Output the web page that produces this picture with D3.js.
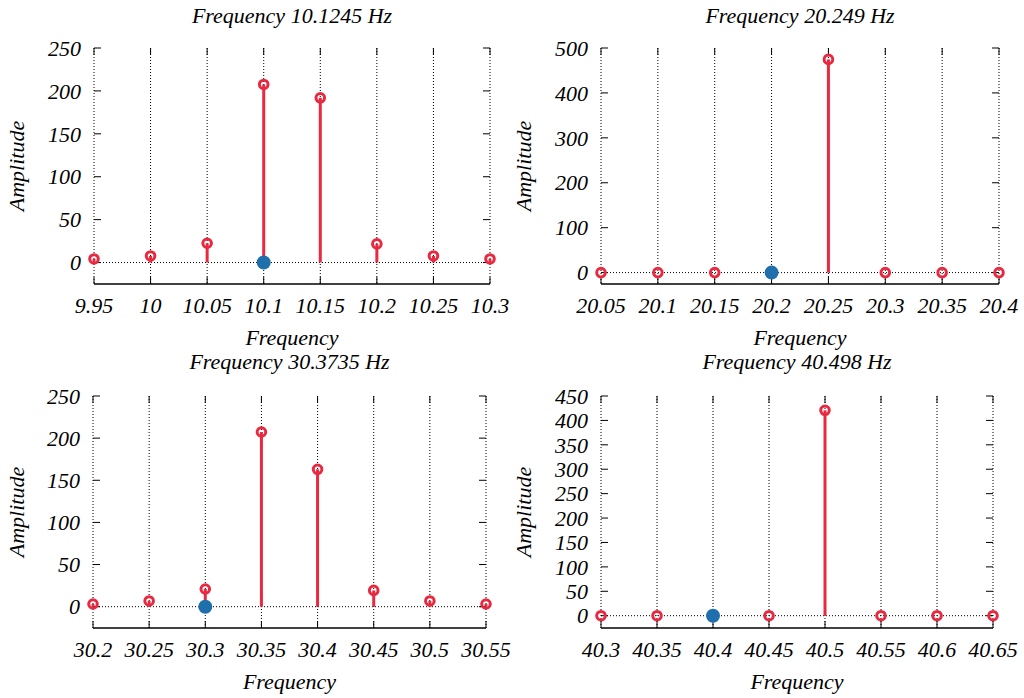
<!DOCTYPE html>
<html>
<head>
<meta charset="utf-8">
<script src="https://cdn.jsdelivr.net/npm/d3@7"></script>
<style>
  body { margin: 0; background: #fff; }
</style>
</head>
<body>
<div id="chart"></div>
<script>
// ---------------- data ----------------
const titles = ["Frequency 10.1245 Hz", "Frequency 20.249 Hz", "Frequency 30.3735 Hz", "Frequency 40.498 Hz"];

const freqs1 = [9.95, 10, 10.05, 10.1, 10.15, 10.2, 10.25, 10.3];
const amps1 = [4.2, 7.7, 22.5, 207.5, 192, 21.7, 7.7, 4.2];
const freqs2 = [20.05, 20.1, 20.15, 20.2, 20.25, 20.3, 20.35, 20.4];
const amps2 = [0, 0, 0, 0, 474.6, 0, 0, 0];
const freqs3 = [30.2, 30.25, 30.3, 30.35, 30.4, 30.45, 30.5, 30.55];
const amps3 = [3.2, 6.8, 21, 207.3, 163, 19.3, 6.8, 3.2];
const freqs4 = [40.3, 40.35, 40.4, 40.45, 40.5, 40.55, 40.6, 40.65];
const amps4 = [0, 0, 0, 0, 420.7, 0, 0, 0];

const xTickLabels1 = ["9.95", "10", "10.05", "10.1", "10.15", "10.2", "10.25", "10.3"];
const xTickLabels2 = ["20.05", "20.1", "20.15", "20.2", "20.25", "20.3", "20.35", "20.4"];
const xTickLabels3 = ["30.2", "30.25", "30.3", "30.35", "30.4", "30.45", "30.5", "30.55"];
const xTickLabels4 = ["40.3", "40.35", "40.4", "40.45", "40.5", "40.55", "40.6", "40.65"];

const yTicks1 = [0, 50, 100, 150, 200, 250];
const yTicks2 = [0, 100, 200, 300, 400, 500];
const yTicks3 = [0, 50, 100, 150, 200, 250];
const yTicks4 = [0, 50, 100, 150, 200, 250, 300, 350, 400, 450];

// nearest bin to the target frequency (blue marker)
const markerFreqs = [10.1, 20.2, 30.3, 40.4];

// ---------------- layout ----------------
const W = 1024, H = 698;
const red = "#e8293f", blue = "#1f6fad";
const fontFamily = "'Liberation Serif', 'DejaVu Serif', 'Times New Roman', Times, serif";

const panels = [
  { freqs: freqs1, amps: amps1, xLabels: xTickLabels1, yTicks: yTicks1, yMin: -25, yMax: 250,
    box: { l: 94, r: 490, t: 48, b: 284 }, titleY: 23, ylabX: 24 },
  { freqs: freqs2, amps: amps2, xLabels: xTickLabels2, yTicks: yTicks2, yMin: -25.4, yMax: 500,
    box: { l: 601, r: 999, t: 48, b: 284 }, titleY: 23, ylabX: 531 },
  { freqs: freqs3, amps: amps3, xLabels: xTickLabels3, yTicks: yTicks3, yMin: -25.3, yMax: 250,
    box: { l: 93, r: 486, t: 396, b: 628 }, titleY: 369, ylabX: 24 },
  { freqs: freqs4, amps: amps4, xLabels: xTickLabels4, yTicks: yTicks4, yMin: -25.2, yMax: 450,
    box: { l: 601, r: 993, t: 396, b: 628 }, titleY: 369, ylabX: 531 },
];

const svg = d3.select("#chart").append("svg").attr("width", W).attr("height", H)
  .attr("font-family", fontFamily).attr("font-style", "italic").attr("font-size", 22);

panels.forEach((p, i) => {
  const { l, r, t, b } = p.box;
  const x = d3.scaleLinear().domain([p.freqs[0], p.freqs[p.freqs.length - 1]]).range([l, r]);
  const y = d3.scaleLinear().domain([p.yMin, p.yMax]).range([b, t]);
  const g = svg.append("g");
  const tickLen = 7;

  // vertical dotted grid at each x tick
  g.selectAll(".grid").data(p.freqs).enter().append("line")
    .attr("x1", (d) => x(d)).attr("x2", (d) => x(d))
    .attr("y1", t).attr("y2", b)
    .attr("stroke", "#000").attr("stroke-width", 1).attr("stroke-dasharray", "1,2");

  // dotted zero line
  g.append("line")
    .attr("x1", l).attr("x2", r).attr("y1", y(0)).attr("y2", y(0))
    .attr("stroke", "#000").attr("stroke-width", 1).attr("stroke-dasharray", "1,2");

  // y ticks (left and right, inward)
  p.yTicks.forEach((v) => {
    g.append("line").attr("x1", l).attr("x2", l + tickLen).attr("y1", y(v)).attr("y2", y(v))
      .attr("stroke", "#000");
    g.append("line").attr("x1", r).attr("x2", r - tickLen).attr("y1", y(v)).attr("y2", y(v))
      .attr("stroke", "#000");
  });
  // x ticks (top and bottom, inward)
  p.freqs.forEach((v) => {
    g.append("line").attr("x1", x(v)).attr("x2", x(v)).attr("y1", b).attr("y2", b - tickLen)
      .attr("stroke", "#000");
    g.append("line").attr("x1", x(v)).attr("x2", x(v)).attr("y1", t).attr("y2", t + tickLen)
      .attr("stroke", "#000");
  });

  // bottom border
  g.append("line").attr("x1", l).attr("x2", r).attr("y1", b).attr("y2", b)
    .attr("stroke", "#000").attr("stroke-width", 1.5);

  // tick labels
  g.selectAll(".ylab").data(p.yTicks).enter().append("text")
    .attr("x", l - 13).attr("y", (d) => y(d)).attr("dy", "0.35em")
    .attr("text-anchor", "end").text((d) => d);
  g.selectAll(".xlab").data(p.freqs).enter().append("text")
    .attr("x", (d) => x(d)).attr("y", b + 29)
    .attr("text-anchor", "middle")
    .text((d, j) => p.xLabels[j]);

  // titles and axis labels
  g.append("text").attr("x", (l + r) / 2).attr("y", p.titleY)
    .attr("text-anchor", "middle").text(titles[i]);
  g.append("text").attr("x", (l + r) / 2).attr("y", b + 61)
    .attr("text-anchor", "middle").text("Frequency");
  g.append("text")
    .attr("transform", `translate(${p.ylabX},${(t + b) / 2}) rotate(-90)`)
    .attr("text-anchor", "middle").text("Amplitude");

  // stems
  g.selectAll(".stem").data(p.freqs).enter().append("line")
    .attr("x1", (d) => x(d)).attr("x2", (d) => x(d))
    .attr("y1", y(0)).attr("y2", (d, j) => y(p.amps[j]))
    .attr("stroke", red).attr("stroke-width", 3);

  // open circle markers
  g.selectAll(".pt").data(p.freqs).enter().append("circle")
    .attr("cx", (d) => x(d)).attr("cy", (d, j) => y(p.amps[j]))
    .attr("r", 4.3).attr("fill", "none").attr("stroke", red).attr("stroke-width", 3);

  // blue marker at nearest bin, drawn on top
  g.append("circle").attr("cx", x(markerFreqs[i])).attr("cy", y(0)).attr("r", 7).attr("fill", blue);
});
</script>
</body>
</html>
